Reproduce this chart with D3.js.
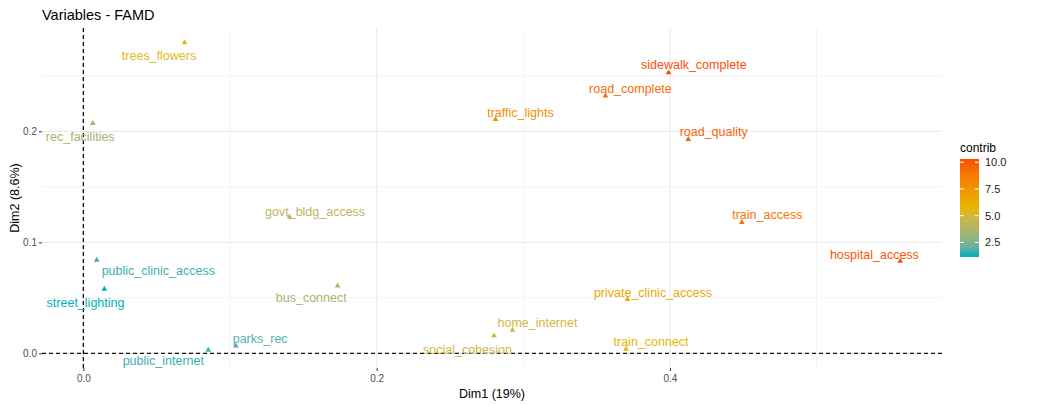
<!DOCTYPE html>
<html>
<head>
<meta charset="utf-8">
<script src="https://cdn.jsdelivr.net/npm/d3@7.9.0/dist/d3.min.js"></script>
<style>
  body { margin: 0; background: #fff; }
  svg { font-family: "Liberation Sans", Arial, sans-serif; display: block; }
</style>
</head>
<body>
<svg id="chart" width="1064" height="405"></svg>
<script>
// variables and their coordinates on Dim1 / Dim2, plus contribution
const names = ['trees_flowers', 'rec_facilities', 'sidewalk_complete', 'road_complete', 'traffic_lights',
  'road_quality', 'govt_bldg_access', 'train_access', 'hospital_access', 'public_clinic_access',
  'street_lighting', 'bus_connect', 'private_clinic_access', 'home_internet', 'social_cohesion',
  'parks_rec', 'public_internet', 'train_connect'];
const dim1 = [0.069, 0.0064, 0.399, 0.356, 0.281, 0.4125, 0.1405, 0.449, 0.557, 0.0091,
  0.0143, 0.1734, 0.371, 0.2926, 0.280, 0.104, 0.0852, 0.370];
const dim2 = [0.280, 0.2072, 0.2528, 0.232, 0.2108, 0.1928, 0.1231, 0.118, 0.0832, 0.0841,
  0.0579, 0.0609, 0.0486, 0.021, 0.0159, 0.0068, 0.003, 0.0039];
const contrib = [5.52, 3.37, 10.30, 9.30, 7.78, 9.56, 4.16, 8.96, 10.11, 1.47,
  1.14, 3.70, 6.63, 4.95, 4.68, 1.75, 1.39, 5.90];

const xTicks = [0, 0.2, 0.4];
const xMinor = [0.1, 0.3, 0.5];
const yTicks = [0, 0.1, 0.2];
const yMinor = [0.05, 0.15, 0.25];
const xLimits = [-0.0282, 0.5855];
const yLimits = [-0.0132, 0.2931];
const legendTicks = [2.5, 5, 7.5, 10];
const gradientCols = ['#00AFBB', '#E7B800', '#FC4E07'];

// repelled label offsets (px) from each point
const labelNudge = {
  trees_flowers: [-25.5, 12.7], rec_facilities: [-12.5, 12.7], sidewalk_complete: [25.3, -8.4],
  road_complete: [25, -7.4], traffic_lights: [25, -7], road_quality: [25.4, -7.6],
  govt_bldg_access: [25.7, -5.7], train_access: [25.5, -8], hospital_access: [-25.8, -6.7],
  public_clinic_access: [61.6, 10], street_lighting: [-18.8, 12.7], bus_connect: [-26.4, 12],
  private_clinic_access: [25.5, -7.6], home_internet: [25, -7.7], social_cohesion: [-26.5, 13.3],
  parks_rec: [24.3, -7.7], public_internet: [-45, 10.7], train_connect: [25.1, -8]
};

const data = names.map((n, i) => ({ name: n, x: dim1[i], y: dim2[i], contrib: contrib[i] }));

const svg = d3.select('#chart');
const panel = { left: 42, right: 942, top: 28, bottom: 368 };

const x = d3.scaleLinear().domain(xLimits).range([panel.left, panel.right]);
const y = d3.scaleLinear().domain(yLimits).range([panel.bottom, panel.top]);

const cExtent = d3.extent(contrib);
const color = d3.scaleLinear()
  .domain([cExtent[0], (cExtent[0] + cExtent[1]) / 2, cExtent[1]])
  .range(gradientCols)
  .interpolate(d3.interpolateLab);

// grid
const grid = svg.append('g');
grid.selectAll('.vminor').data(xMinor).join('line')
  .attr('x1', d => x(d)).attr('x2', d => x(d))
  .attr('y1', panel.top).attr('y2', panel.bottom)
  .attr('stroke', '#EBEBEB').attr('stroke-width', 0.6);
grid.selectAll('.hminor').data(yMinor).join('line')
  .attr('y1', d => y(d)).attr('y2', d => y(d))
  .attr('x1', panel.left).attr('x2', panel.right)
  .attr('stroke', '#EBEBEB').attr('stroke-width', 0.6);
grid.selectAll('.vmajor').data(xTicks).join('line')
  .attr('x1', d => x(d)).attr('x2', d => x(d))
  .attr('y1', panel.top).attr('y2', panel.bottom)
  .attr('stroke', '#EBEBEB').attr('stroke-width', 1.1);
grid.selectAll('.hmajor').data(yTicks).join('line')
  .attr('y1', d => y(d)).attr('y2', d => y(d))
  .attr('x1', panel.left).attr('x2', panel.right)
  .attr('stroke', '#EBEBEB').attr('stroke-width', 1.1);

// axes
const xAxis = svg.append('g')
  .attr('transform', `translate(0,${panel.bottom})`)
  .call(d3.axisBottom(x).tickValues(xTicks).tickFormat(d3.format('.1f')).tickSize(3).tickPadding(4));
const yAxis = svg.append('g')
  .attr('transform', `translate(${panel.left},0)`)
  .call(d3.axisLeft(y).tickValues(yTicks).tickFormat(d3.format('.1f')).tickSize(3).tickPadding(2));
[xAxis, yAxis].forEach(a => {
  a.select('.domain').remove();
  a.selectAll('line').attr('stroke', '#333').attr('stroke-width', 1);
  a.selectAll('text').attr('fill', '#4D4D4D').style('font-size', '10px');
});

// zero lines
svg.append('line')
  .attr('x1', x(0)).attr('x2', x(0)).attr('y1', panel.top).attr('y2', panel.bottom)
  .attr('stroke', '#111').attr('stroke-width', 1.3).attr('stroke-dasharray', '4,3');
svg.append('line')
  .attr('y1', y(0)).attr('y2', y(0)).attr('x1', panel.left).attr('x2', panel.right)
  .attr('stroke', '#111').attr('stroke-width', 1.3).attr('stroke-dasharray', '4,3');

// points
const tri = d3.symbol().type(d3.symbolTriangle).size(14);
svg.append('g').selectAll('path').data(data).join('path')
  .attr('d', tri)
  .attr('transform', d => `translate(${x(d.x)},${y(d.y)})`)
  .attr('fill', d => color(d.contrib));

// labels
svg.append('g').selectAll('text').data(data).join('text')
  .attr('x', d => x(d.x) + labelNudge[d.name][0])
  .attr('y', d => y(d.y) + labelNudge[d.name][1])
  .attr('dy', '0.38em')
  .attr('text-anchor', 'middle')
  .attr('fill', d => color(d.contrib))
  .style('font-size', '12.5px')
  .text(d => d.name);

// titles
svg.append('text').attr('x', 42).attr('y', 20)
  .style('font-size', '14.5px').attr('fill', '#000').text('Variables - FAMD');
svg.append('text').attr('x', (panel.left + panel.right) / 2).attr('y', 398)
  .attr('text-anchor', 'middle').style('font-size', '12.5px').attr('fill', '#000').text('Dim1 (19%)');
svg.append('text')
  .attr('transform', `translate(19,${(panel.top + panel.bottom) / 2}) rotate(-90)`)
  .attr('text-anchor', 'middle').style('font-size', '12.5px').attr('fill', '#000').text('Dim2 (8.6%)');

// legend
const lg = svg.append('g');
const ly = d3.scaleLinear().domain(cExtent).range([257, 159]);
const grad = svg.append('defs').append('linearGradient')
  .attr('id', 'cgrad').attr('x1', 0).attr('y1', 1).attr('x2', 0).attr('y2', 0);
d3.range(0, 1.0001, 0.1).forEach(t => {
  grad.append('stop').attr('offset', t)
    .attr('stop-color', color(cExtent[0] + t * (cExtent[1] - cExtent[0])));
});
lg.append('text').attr('x', 960).attr('y', 152).style('font-size', '12px').attr('fill', '#000').text('contrib');
lg.append('rect').attr('x', 960).attr('y', ly(cExtent[1])).attr('width', 19)
  .attr('height', ly(cExtent[0]) - ly(cExtent[1])).attr('fill', 'url(#cgrad)');
lg.selectAll('.tl').data(legendTicks).join('line')
  .attr('x1', 960).attr('x2', 964).attr('y1', d => ly(d)).attr('y2', d => ly(d))
  .attr('stroke', '#fff').attr('stroke-width', 1);
lg.selectAll('.tr').data(legendTicks).join('line')
  .attr('x1', 975).attr('x2', 979).attr('y1', d => ly(d)).attr('y2', d => ly(d))
  .attr('stroke', '#fff').attr('stroke-width', 1);
lg.selectAll('.lab').data(legendTicks).join('text')
  .attr('x', 985).attr('y', d => ly(d)).attr('dy', '0.35em')
  .style('font-size', '11px').attr('fill', '#1a1a1a')
  .text(d3.format('.1f'));
</script>
</body>
</html>
